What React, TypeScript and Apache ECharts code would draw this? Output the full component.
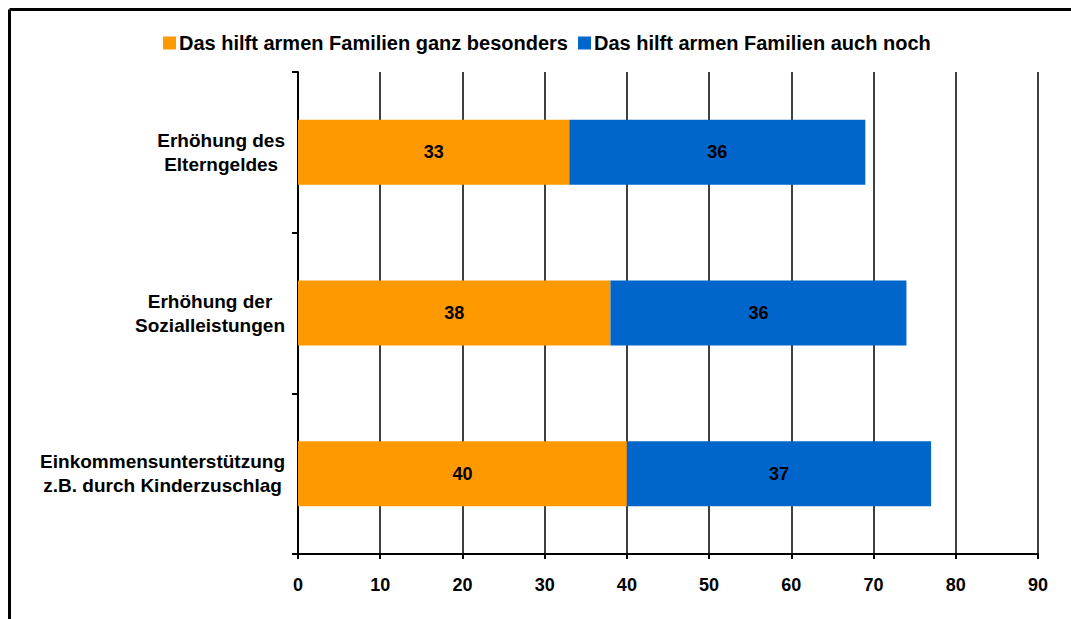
import React, { useEffect, useRef } from "react";
import * as echarts from "echarts";

const categories = [
  "Erhöhung des\nElterngeldes",
  "Erhöhung der\nSozialleistungen",
  "Einkommensunterstützung\nz.B. durch Kinderzuschlag",
];
const seriesNames = [
  "Das hilft armen Familien ganz besonders",
  "Das hilft armen Familien auch noch",
];
const besonders = [33, 38, 40];
const auchNoch = [36, 36, 37];
const xMin = 0;
const xMax = 90;
const xStep = 10;

const FONT = "'Liberation Sans', Arial, sans-serif";
const ORANGE = "#FF9900";
const BLUE = "#0066CC";

export default function App() {
  const ref = useRef<HTMLDivElement>(null);
  useEffect(() => {
    if (!ref.current) return;
    const chart = echarts.init(ref.current, undefined, { renderer: "svg" });
    const labelStyle = {
      show: true,
      position: "inside",
      color: "#000",
      fontFamily: FONT,
      fontWeight: "bold",
      fontSize: 18,
    };
    chart.setOption({
      animation: false,
      backgroundColor: "#fff",
      textStyle: { fontFamily: FONT },
      graphic: [
        {
          type: "line",
          shape: { x1: 9.5, y1: 9.5, x2: 2000, y2: 9.5 },
          style: { stroke: "#000", lineWidth: 3 },
        },
        {
          type: "line",
          shape: { x1: 9.5, y1: 9.5, x2: 9.5, y2: 2000 },
          style: { stroke: "#000", lineWidth: 3 },
        },
      ],
      legend: {
        left: 158,
        top: 28,
        itemWidth: 13,
        itemHeight: 13,
        itemGap: 10,
        icon: "rect",
        data: seriesNames,
        textStyle: {
          fontFamily: FONT,
          fontWeight: "bold",
          fontSize: 20,
          color: "#000",
          padding: [0, 0, 0, -2],
        },
      },
      grid: { left: 298, right: 33, top: 72, bottom: 65, containLabel: false },
      xAxis: {
        type: "value",
        min: xMin,
        max: xMax,
        interval: xStep,
        axisLine: { show: true, lineStyle: { color: "#000", width: 2 } },
        axisTick: { show: true, length: 5, lineStyle: { color: "#000", width: 2 } },
        splitLine: { show: true, lineStyle: { color: "#000", width: 1.5 } },
        axisLabel: {
          color: "#000",
          fontFamily: FONT,
          fontWeight: "bold",
          fontSize: 18,
          margin: 22,
        },
      },
      yAxis: {
        type: "category",
        data: categories,
        inverse: true,
        axisLine: { show: true, lineStyle: { color: "#000", width: 2 } },
        axisTick: { show: true, length: 6, lineStyle: { color: "#000", width: 2 } },
        splitLine: { show: false },
        axisLabel: {
          margin: 13,
          color: "#000",
          fontFamily: FONT,
          fontWeight: "bold",
          fontSize: 19,
          lineHeight: 24,
          formatter: (v: string) =>
            v
              .split("\n")
              .map((l) => `{c|${l}}`)
              .join("\n"),
          rich: {
            c: {
              align: "center",
              color: "#000",
              fontFamily: FONT,
              fontWeight: "bold",
              fontSize: 19,
              lineHeight: 24,
            },
          },
        },
      },
      series: [
        {
          name: seriesNames[0],
          type: "bar",
          stack: "total",
          barWidth: 65,
          data: besonders,
          itemStyle: { color: ORANGE },
          label: labelStyle,
        },
        {
          name: seriesNames[1],
          type: "bar",
          stack: "total",
          barWidth: 65,
          data: auchNoch,
          itemStyle: { color: BLUE },
          label: labelStyle,
        },
      ],
    });
    return () => chart.dispose();
  }, []);
  return (
    <div
      style={{
        position: "fixed",
        left: 0,
        top: 0,
        width: 1071,
        height: 619,
        overflow: "hidden",
        background: "#fff",
      }}
    >
      <div ref={ref} style={{ width: 1071, height: 619 }} />
    </div>
  );
}
